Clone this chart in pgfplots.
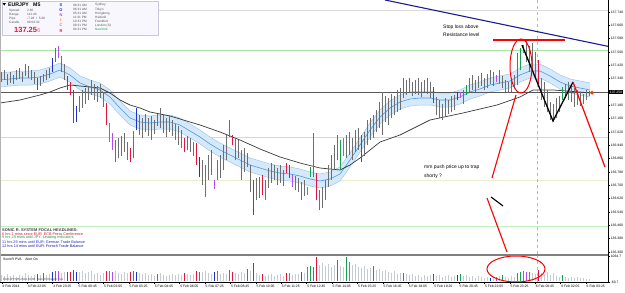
\documentclass[border=0pt]{standalone}
\usepackage{fontspec}
\setmainfont{Liberation Sans}
\usepackage{pgfplots}
\pgfplotsset{compat=1.18}
\usepackage{pgfplotstable}
\newcommand{\fsz}[2]{\fontsize{#1}{#2}\selectfont}
\definecolor{cgray}{HTML}{6E6E6E}
\definecolor{cred}{HTML}{E0143C}
\definecolor{cgreen}{HTML}{14A050}
\definecolor{cblue}{HTML}{1E32C8}
\definecolor{cpurple}{HTML}{B44CF0}
\definecolor{vgray}{HTML}{C6CAD2}
\definecolor{bandfill}{HTML}{D6E9FA}
\definecolor{bandedge}{HTML}{9CCAF0}
\definecolor{bandmid}{HTML}{4A98E8}
\definecolor{slowma}{HTML}{3A3A3A}
\definecolor{navy}{HTML}{1C1C90}
\definecolor{lgreen}{HTML}{A8E6A8}
\definecolor{llav}{HTML}{D4D4F0}
\definecolor{lyel}{HTML}{E8EFD0}
\definecolor{boxbg}{HTML}{F7F7FD}
\definecolor{boxline}{HTML}{C8C8DC}
\definecolor{txtgray}{HTML}{555555}
\definecolor{dotred}{HTML}{E8400F}

% all bars: index, low, high, volume
\pgfplotstableread{
i l h v
0 137.320 137.380 260
1 137.332 137.392 217
2 137.302 137.368 303
3 137.314 137.380 217
4 137.308 137.362 260
5 137.332 137.392 173
6 137.338 137.404 260
7 137.320 137.380 217
8 137.356 137.428 346
9 137.344 137.416 260
10 137.332 137.392 217
11 137.308 137.380 260
12 137.272 137.344 303
13 137.296 137.356 260
14 137.320 137.368 346
15 137.332 137.392 260
16 137.344 137.404 303
17 137.380 137.464 390
18 137.440 137.524 433
19 137.464 137.536 433
20 137.380 137.476 346
21 137.332 137.428 390
22 137.272 137.356 390
23 137.242 137.320 390
24 137.074 137.272 476
25 137.080 137.176 390
26 137.140 137.236 390
27 137.164 137.272 433
28 137.188 137.284 346
29 137.212 137.296 390
30 137.242 137.332 433
31 137.212 137.308 303
32 137.200 137.296 346
33 137.224 137.308 260
34 137.170 137.260 346
35 137.062 137.194 433
36 136.960 137.074 433
37 136.912 137.014 390
38 136.840 136.972 433
39 136.864 136.984 346
40 136.876 136.996 303
41 136.900 137.014 390
42 136.852 136.960 346
43 136.840 136.924 390
44 136.864 137.026 433
45 137.032 137.164 390
46 137.002 137.122 346
47 136.984 137.104 303
48 137.020 137.128 346
49 136.996 137.104 260
50 136.972 137.116 303
51 137.008 137.092 217
52 137.056 137.128 303
53 137.044 137.164 346
54 137.014 137.122 260
55 136.990 137.104 217
56 137.020 137.116 260
57 136.996 137.092 303
58 136.972 137.068 260
59 136.942 137.056 303
60 136.924 137.032 260
61 136.900 136.984 346
62 136.912 136.996 303
63 136.900 136.984 260
64 136.876 136.960 303
65 136.822 136.954 433
66 136.750 136.870 390
67 136.702 136.852 390
68 136.630 136.822 433
69 136.732 136.882 346
70 136.762 136.912 303
71 136.680 136.730 390
72 136.732 136.852 433
73 136.744 136.882 303
74 136.792 136.942 346
75 136.852 137.002 303
76 136.990 137.092 476
77 136.942 137.002 390
78 136.852 136.984 346
79 136.864 136.972 303
80 136.732 136.912 390
81 136.780 136.924 346
82 136.810 136.894 520
83 136.660 136.822 433
84 136.522 136.732 779
85 136.612 136.744 346
86 136.624 136.750 260
87 136.642 136.762 303
88 136.612 136.732 217
89 136.684 136.804 260
90 136.714 136.834 303
91 136.732 136.822 217
92 136.702 136.804 260
93 136.714 136.822 303
94 136.696 136.792 217
95 136.774 136.834 346
96 136.744 136.822 346
97 136.690 136.762 260
98 136.672 136.756 303
99 136.660 136.744 303
100 136.612 136.720 390
101 136.636 136.732 346
102 136.642 136.690 606
103 136.750 136.810 650
104 136.750 137.014 606
105 136.612 136.774 1039
106 136.552 136.672 693
107 136.564 136.690 779
108 136.612 136.732 650
109 136.690 136.822 736
110 136.732 136.882 606
111 136.792 136.942 693
112 136.852 137.002 909
113 136.792 136.972 650
114 136.876 136.984 606
115 136.864 137.002 1039
116 136.882 137.020 823
117 136.852 136.984 693
118 136.900 137.032 736
119 136.912 137.044 606
120 136.840 137.002 563
121 136.876 137.020 650
122 136.942 137.092 520
123 136.972 137.104 563
124 136.984 137.122 650
125 137.020 137.152 476
126 137.044 137.200 520
127 137.002 137.260 433
128 137.080 137.236 476
129 137.062 137.224 390
130 137.104 137.248 346
131 137.122 137.236 433
132 137.140 137.272 303
133 137.152 137.284 346
134 137.224 137.344 346
135 137.242 137.332 303
136 137.260 137.344 260
137 137.236 137.320 303
138 137.248 137.332 217
139 137.242 137.344 260
140 137.230 137.320 173
141 137.260 137.332 260
142 137.248 137.344 217
143 137.224 137.320 260
144 137.194 137.290 303
145 137.122 137.230 217
146 137.104 137.212 260
147 137.092 137.188 173
148 137.116 137.224 217
149 137.128 137.212 260
150 137.140 137.236 173
151 137.152 137.242 217
152 137.212 137.260 260
153 137.224 137.260 303
154 137.188 137.272 217
155 137.242 137.302 260
156 137.260 137.344 173
157 137.272 137.362 217
158 137.260 137.332 130
159 137.284 137.356 217
160 137.296 137.374 173
161 137.272 137.344 130
162 137.284 137.368 173
163 137.308 137.392 130
164 137.296 137.380 173
165 137.320 137.362 173
166 137.308 137.392 217
167 137.284 137.356 260
168 137.260 137.332 173
169 137.254 137.320 130
170 137.260 137.344 217
171 137.284 137.362 173
172 137.302 137.494 346
173 137.392 137.524 390
174 137.494 137.542 433
175 137.440 137.572 390
176 137.380 137.536 390
177 137.392 137.554 346
178 137.344 137.500 303
179 137.290 137.452 476
180 137.212 137.344 346
181 137.170 137.320 303
182 137.140 137.272 390
183 137.092 137.200 260
184 137.080 137.188 346
185 137.104 137.224 217
186 137.140 137.236 173
187 137.212 137.290 260
188 137.224 137.308 173
189 137.212 137.320 130
190 137.200 137.296 173
191 137.170 137.284 130
192 137.182 137.272 173
193 137.176 137.260 130
194 137.188 137.248 130
195 137.212 137.272 87
196 137.236 137.266 87
}\bars

% coloured candles (overlay)
\pgfplotstableread{
i l h
12 137.272 137.344
22 137.272 137.356
23 137.242 137.320
24 137.074 137.272
35 137.062 137.194
43 136.840 136.924
61 136.900 136.984
65 136.822 136.954
77 136.942 137.002
84 136.522 136.732
87 136.642 136.762
95 136.774 136.834
96 136.744 136.822
105 136.612 136.774
120 136.840 137.002
144 137.194 137.290
179 137.290 137.452
}\cRed
\pgfplotstableread{
i l h
14 137.320 137.368
18 137.440 137.524
44 136.864 137.026
52 137.056 137.128
76 136.990 137.050
82 136.810 136.894
103 136.750 136.810
113 136.792 136.972
134 137.224 137.344
155 137.242 137.302
172 137.302 137.494
173 137.392 137.524
187 137.212 137.290
}\cGreen
\pgfplotstableread{
i l h
17 137.380 137.464
25 137.080 137.176
45 137.032 137.164
66 136.750 136.870
152 137.212 137.260
}\cBlue
\pgfplotstableread{
i l h
19 137.464 137.536
36 136.960 137.074
37 136.912 137.014
71 136.680 136.730
97 136.690 136.762
102 136.642 136.690
114 136.876 136.984
153 137.224 137.260
165 137.320 137.362
174 137.494 137.542
}\cPurple

% coloured volume bars (overlay)
\pgfplotstableread{
i v
12 303
22 390
23 390
24 476
35 433
43 390
61 346
65 433
77 390
84 779
87 303
95 346
100 390
105 1039
144 303
179 476
}\vRed
\pgfplotstableread{
i v
14 346
18 433
44 433
52 303
66 390
76 476
82 520
103 650
104 606
112 909
115 1039
124 650
134 346
153 303
167 260
172 346
173 390
187 260
}\vGreen
\pgfplotstableread{
i v
17 390
25 390
45 390
71 390
152 260
163 130
}\vBlue
\pgfplotstableread{
i v
19 433
36 433
37 390
72 433
96 346
102 606
116 823
165 173
174 433
175 390
176 390
}\vPurple

\pgfplotstableread{
x up mid lo
0 137.374 137.332 137.290
10 137.380 137.338 137.296
20 137.386 137.344 137.302
30 137.386 137.344 137.302
40 137.392 137.350 137.308
50 137.410 137.368 137.326
60 137.434 137.392 137.350
70 137.404 137.362 137.320
80 137.356 137.314 137.272
90 137.332 137.290 137.248
100 137.314 137.272 137.230
110 137.272 137.230 137.188
120 137.206 137.164 137.122
130 137.146 137.104 137.062
140 137.122 137.080 137.038
150 137.116 137.074 137.032
160 137.122 137.080 137.038
170 137.122 137.080 137.038
180 137.104 137.062 137.020
190 137.068 137.026 136.984
200 137.032 136.990 136.948
210 136.990 136.948 136.906
220 136.954 136.912 136.870
230 136.924 136.882 136.840
240 136.894 136.852 136.810
250 136.864 136.822 136.780
260 136.846 136.804 136.762
270 136.828 136.786 136.744
280 136.816 136.774 136.732
290 136.810 136.768 136.726
300 136.798 136.756 136.714
310 136.780 136.738 136.696
320 136.768 136.726 136.684
330 136.780 136.738 136.696
340 136.810 136.768 136.726
350 136.894 136.852 136.810
360 136.984 136.942 136.900
370 137.074 137.032 136.990
380 137.152 137.110 137.068
390 137.206 137.164 137.122
400 137.242 137.200 137.158
410 137.260 137.218 137.176
420 137.266 137.224 137.182
430 137.266 137.224 137.182
440 137.254 137.212 137.170
450 137.254 137.212 137.170
460 137.272 137.230 137.188
470 137.302 137.260 137.218
480 137.320 137.278 137.236
490 137.344 137.302 137.260
500 137.356 137.314 137.272
510 137.368 137.326 137.284
520 137.404 137.362 137.320
530 137.428 137.386 137.344
540 137.428 137.386 137.344
550 137.398 137.356 137.314
560 137.362 137.320 137.278
570 137.338 137.296 137.254
580 137.326 137.284 137.242
590 137.314 137.272 137.230
}\band

% band outline as one polygon (upper edge left to right, lower edge right to left)
\pgfplotstableread{
x y
0 137.374
10 137.380
20 137.386
30 137.386
40 137.392
50 137.410
60 137.434
70 137.404
80 137.356
90 137.332
100 137.314
110 137.272
120 137.206
130 137.146
140 137.122
150 137.116
160 137.122
170 137.122
180 137.104
190 137.068
200 137.032
210 136.990
220 136.954
230 136.924
240 136.894
250 136.864
260 136.846
270 136.828
280 136.816
290 136.810
300 136.798
310 136.780
320 136.768
330 136.780
340 136.810
350 136.894
360 136.984
370 137.074
380 137.152
390 137.206
400 137.242
410 137.260
420 137.266
430 137.266
440 137.254
450 137.254
460 137.272
470 137.302
480 137.320
490 137.344
500 137.356
510 137.368
520 137.404
530 137.428
540 137.428
550 137.398
560 137.362
570 137.338
580 137.326
590 137.314
590 137.230
580 137.242
570 137.254
560 137.278
550 137.314
540 137.344
530 137.344
520 137.320
510 137.284
500 137.272
490 137.260
480 137.236
470 137.218
460 137.188
450 137.170
440 137.170
430 137.182
420 137.182
410 137.176
400 137.158
390 137.122
380 137.068
370 136.990
360 136.900
350 136.810
340 136.726
330 136.696
320 136.684
310 136.696
300 136.714
290 136.726
280 136.732
270 136.744
260 136.762
250 136.780
240 136.810
230 136.840
220 136.870
210 136.906
200 136.948
190 136.984
180 137.020
170 137.038
160 137.038
150 137.032
140 137.038
130 137.062
120 137.122
110 137.188
100 137.230
90 137.248
80 137.272
70 137.320
60 137.350
50 137.326
40 137.308
30 137.302
20 137.302
10 137.296
0 137.290
}\bandpoly

\pgfplotstableread{
x ma
0 137.194
20 137.212
40 137.242
50 137.260
60 137.284
70 137.302
80 137.296
90 137.290
100 137.284
110 137.254
120 137.212
130 137.182
140 137.164
150 137.140
160 137.128
170 137.116
180 137.098
190 137.080
200 137.062
220 137.020
240 136.972
260 136.918
280 136.870
300 136.834
320 136.804
340 136.792
350 136.822
360 136.864
370 136.912
380 136.960
400 137.002
430 137.092
463 137.134
497 137.182
520 137.230
533 137.272
553 137.272
580 137.260
592 137.254
}\slow

\pgfplotsset{
  candle/.style={forget plot, draw=#1, line width=1.2bp, line cap=butt, -, mark=none,
    quiver={u=0, v={\thisrow{h}-\thisrow{l}}}},
  vol/.style={forget plot, ycomb, draw=#1, line width=1.4bp, line cap=butt, mark=none},
}

\begin{document}
\begin{tikzpicture}
\useasboundingbox (0bp,0bp) rectangle (625bp,-293bp);
\fill[white] (0bp,0bp) rectangle (625bp,-293bp);

\begin{axis}[
  at={(0bp,0bp)}, anchor=north west,
  scale only axis, width=608bp, height=254bp,
  xmin=0, xmax=608, ymin=136.288, ymax=137.812,
  clip=false,
  axis line style={draw=none},
  xtick=\empty,
  ytick pos=right, yticklabel pos=right,
  ytick={137.74,137.66,137.58,137.50,137.42,137.34,137.18,137.10,137.02,136.94,136.86,136.78,136.70,136.62,136.54,136.46,136.38,136.30},
  yticklabels={137.740,137.660,137.580,137.500,137.420,137.340,137.180,137.100,137.020,136.940,136.860,136.780,136.700,136.620,136.540,136.460,136.380,136.300},
  tick align=outside, major tick length=2bp,
  tick style={black, line width=0.4bp},
  yticklabel style={font=\fsz{3.4}{4}, inner sep=0.6bp},
]
% horizontal levels
\addplot[forget plot, draw=gray!30, line width=0.5bp] coordinates {(158,137.752) (608,137.752)};
\addplot[forget plot, draw=lgreen, line width=0.6bp] coordinates {(0,137.512) (608,137.512)};
\addplot[forget plot, draw=llav, line width=0.6bp] coordinates {(0,136.990) (608,136.990)};
\addplot[forget plot, draw=lyel, line width=0.6bp] coordinates {(0,136.732) (608,136.732)};
\addplot[forget plot, draw=lgreen!70, line width=0.6bp] coordinates {(0,136.456) (608,136.456)};
\addplot[forget plot, draw=gray!55, dashed, line width=0.4bp] coordinates {(537,136.288) (537,137.812)};
% dragon band
\addplot[forget plot, fill=bandfill, draw=none] table[x=x,y=y]{\bandpoly};
\addplot[forget plot, draw=bandedge, line width=0.5bp] table[x=x,y=up]{\band};
\addplot[forget plot, draw=bandedge, line width=0.5bp] table[x=x,y=lo]{\band};
\addplot[forget plot, draw=bandmid, line width=0.6bp] table[x=x,y=mid]{\band};
\addplot[forget plot, draw=black!65, line width=0.6bp] coordinates {(0,137.258) (608,137.258)};
% slow MA
\addplot[forget plot, draw=slowma, line width=0.7bp] table[x=x,y=ma]{\slow};
% candles
\addplot[candle=cgray] table[x expr=\thisrow{i}*3+1.5, y=l]{\bars};
\addplot[candle=cred] table[x expr=\thisrow{i}*3+1.5, y=l]{\cRed};
\addplot[candle=cgreen] table[x expr=\thisrow{i}*3+1.5, y=l]{\cGreen};
\addplot[candle=cblue] table[x expr=\thisrow{i}*3+1.5, y=l]{\cBlue};
\addplot[candle=cpurple] table[x expr=\thisrow{i}*3+1.5, y=l]{\cPurple};
% annotations
\addplot[forget plot, draw=navy, line width=1.1bp] coordinates {(385,137.812) (608,137.534)};
\addplot[forget plot, draw=red, line width=1.1bp] coordinates {(493,137.572) (565,137.572)};
\addplot[forget plot, draw=black, line width=1.3bp] coordinates {(522,137.542) (553,137.086) (573,137.320)};
\addplot[forget plot, draw=red, line width=1.2bp] coordinates {(573,137.320) (605,136.810)};
\addplot[forget plot, draw=red, line width=1.1bp] coordinates {(516,137.242) (492,136.744)};
\addplot[forget plot, draw=red, line width=1.1bp] coordinates {(507,136.300) (487,136.624)};
\addplot[forget plot, draw=black, line width=1.1bp] coordinates {(491,136.630) (503,136.576)};
\addplot[forget plot, only marks, mark=*, mark size=1.8bp, color=dotred] coordinates {(592,137.256)};
\end{axis}

\begin{axis}[
  at={(0bp,-256bp)}, anchor=north west,
  scale only axis, width=608bp, height=26bp,
  xmin=0, xmax=608, ymin=-60.7, ymax=1064.7, clip=false,
  axis line style={draw=none},
  xtick pos=bottom, ytick pos=right, yticklabel pos=right,
  xtick={1.7,27.1,52.5,77.9,103.3,128.7,154.1,179.5,204.9,230.3,255.7,281.1,306.5,331.9,357.3,382.7,408.1,433.5,458.9,484.3,509.7,535.1,560.5,585.9},
  xticklabels={4 Feb 2014,4 Feb 22:05,4 Feb 23:25,5 Feb 00:45,5 Feb 02:05,5 Feb 03:25,5 Feb 04:45,5 Feb 06:05,5 Feb 07:25,5 Feb 08:45,5 Feb 10:05,5 Feb 11:25,5 Feb 12:45,5 Feb 14:05,5 Feb 15:25,5 Feb 16:45,5 Feb 18:05,5 Feb 19:25,5 Feb 20:45,5 Feb 22:05,5 Feb 23:25,6 Feb 00:45,6 Feb 02:05,6 Feb 03:25},
  ytick={-60.7,1064.7}, yticklabels={-60.7,1064.7},
  tick align=outside, major tick length=2bp,
  tick style={black, line width=0.4bp},
  xticklabel style={font=\fsz{3.4}{4}, anchor=north west, inner sep=0.6bp},
  yticklabel style={font=\fsz{3.4}{4}, inner sep=0.6bp},
]
\addplot[forget plot, draw=gray!55, dashed, line width=0.4bp] coordinates {(537,-60.7) (537,1064.7)};
\addplot[vol=vgray] table[x expr=\thisrow{i}*3+1.5, y=v]{\bars};
\addplot[vol=cred] table[x expr=\thisrow{i}*3+1.5, y=v]{\vRed};
\addplot[vol=cgreen] table[x expr=\thisrow{i}*3+1.5, y=v]{\vGreen};
\addplot[vol=cblue] table[x expr=\thisrow{i}*3+1.5, y=v]{\vBlue};
\addplot[vol=cpurple] table[x expr=\thisrow{i}*3+1.5, y=v]{\vPurple};
\end{axis}

% ellipses, notes and price box in picture coordinates (1 bp = 1 px)
\draw[red, line width=1bp] (521bp,-66bp) ellipse [x radius=11bp, y radius=27bp];
\draw[red, line width=1bp] (516bp,-269bp) ellipse [x radius=29bp, y radius=13bp];
\node[anchor=west, inner sep=0pt, align=left, font=\fsz{5}{8}] at (443bp,-31bp) {Stop loss above\\Resistance level};
\node[anchor=west, inner sep=0pt, align=left, font=\fsz{5}{9}] at (424bp,-172bp) {mm push price up to trap\\shorty ?};
\node[anchor=west, fill=black, text=white, inner sep=0.7bp, font=\fsz{3.4}{4}] at (609bp,-92.3bp) {137.258};

% frame: pane separator, right axis, bottom line, left edge
\fill[black!50] (0bp,-254bp) rectangle (608bp,-256bp);
\draw[black, line width=0.5bp] (608bp,0bp) -- (608bp,-282bp);
\draw[black, line width=0.5bp] (0bp,-282bp) -- (608bp,-282bp);
\draw[gray!60, line width=1bp] (0.5bp,0bp) -- (0.5bp,-282bp);

% info box
\fill[boxbg] (2bp,-1bp) rectangle (158bp,-35bp);
\draw[boxline, line width=0.4bp] (2bp,-1bp) rectangle (158bp,-35bp);
\fill[black] (2.5bp,-3bp) -- (6bp,-3bp) -- (4.25bp,-5.5bp) -- cycle;
\node[anchor=west, inner sep=0pt, font=\bfseries\fsz{5.2}{6}] at (8bp,-5bp) {EURJPY\ \ \ M5};
\begin{scope}[every node/.style={anchor=west, inner sep=0pt, font=\fsz{3.2}{4}, text=txtgray}]
\node at (9bp,-10.5bp) {Spread}; \node at (27bp,-10.5bp) {2.60};
\node at (9bp,-14.5bp) {Range};  \node at (27bp,-14.5bp) {112.40};
\node at (9bp,-18.5bp) {Pips};   \node at (27bp,-18.5bp) {-7.28\ \ /\ \ 5.00};
\node at (9bp,-22.5bp) {Candle}; \node at (27bp,-22.5bp) {00:03:32};
\node at (73bp,-5bp) {08:31 AM};  \node at (95bp,-5bp) {Sydney};
\node at (73bp,-9.2bp) {06:31 AM}; \node at (95bp,-9.2bp) {Tokyo};
\node at (73bp,-13.3bp) {05:31 AM}; \node at (95bp,-13.3bp) {Hongkong};
\node at (73bp,-17.4bp) {11:31 PM}; \node at (95bp,-17.4bp) {Helsinki};
\node at (73bp,-21.5bp) {10:31 PM}; \node at (95bp,-21.5bp) {Frankfurt};
\node at (73bp,-25.6bp) {09:31 PM}; \node at (95bp,-25.6bp) {London (S)};
\node at (73bp,-29.7bp) {04:31 PM}; \node[text=cgreen] at (95bp,-29.7bp) {NewYork};
\end{scope}
\node[anchor=west, inner sep=0pt, font=\bfseries\fsz{7.5}{8}, text=cred] at (14bp,-29.5bp) {137.25{\fsz{6}{7}\color{cred!45}6}};
\begin{scope}[every node/.style={anchor=center, inner sep=0pt, font=\bfseries\fsz{4}{5}}]
\node[text=cblue] at (61bp,-5bp) {S};
\node[text=cblue] at (61bp,-10bp) {O};
\node[text=cpurple] at (61bp,-15.5bp) {N};
\node[text=orange] at (61bp,-20.5bp) {I};
\node[text=cred!60] at (61bp,-25.5bp) {C};
\node[text=cred] at (61bp,-31bp) {R};
\end{scope}

% headlines
\begin{scope}[every node/.style={anchor=west, inner sep=0pt, font=\fsz{3.8}{4}}]
\node[text=black!75, font=\bfseries\fsz{4}{4}] at (2bp,-230bp) {SONIC R. SYSTEM FOCAL HEADLINES:};
\node[text=cred] at (2bp,-234bp) {6 hrs 1 mins since EUR: ECB Press Conference};
\node[text=cgreen] at (2bp,-238bp) {9 hrs 29 mins until JPY: Leading Indicators};
\node[text=cblue] at (2bp,-242bp) {11 hrs 29 mins until EUR: German Trade Balance};
\node[text=navy] at (2bp,-246bp) {12 hrs 14 mins until EUR: French Trade Balance};
\node[text=black, font=\fsz{3.4}{4}] at (3bp,-259.5bp) {SonicR PVA\ \ \ \ Alert On};
\node[text=black!70, font=\fsz{3}{4}] at (3bp,-280bp) {EURJPY,M5 2014.02.06\ \ SonicR Dragon Exp};
\end{scope}
\end{tikzpicture}
\end{document}
